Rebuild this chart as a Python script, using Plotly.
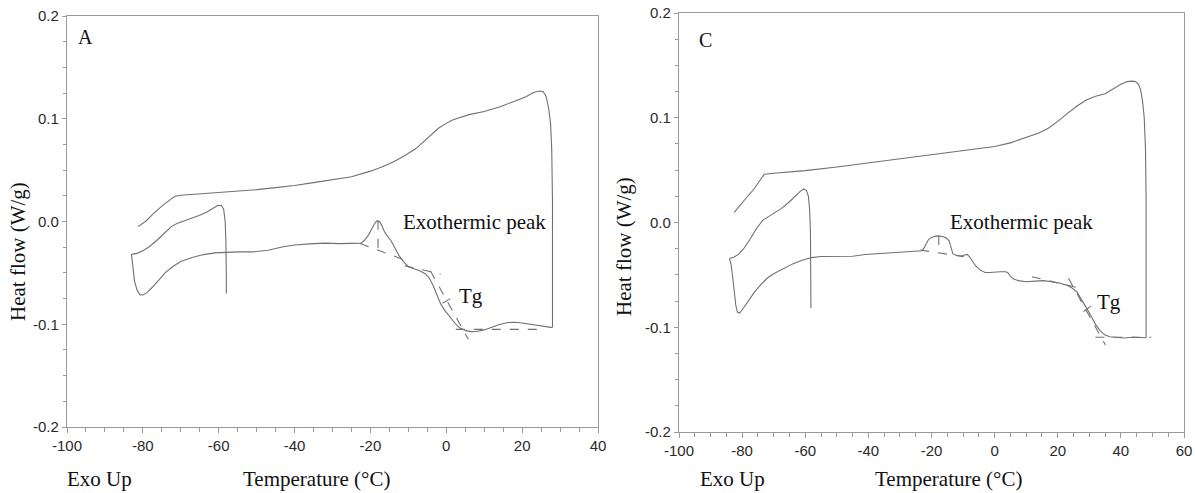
import plotly.graph_objects as go

# ---------------- Panel A data ----------------
a_top_x = [-81.3, -79, -77.3, -75, -72.5, -71.5, -70, -65, -60, -55, -50, -45, -40, -35, -30, -25, -20, -17, -14,
           -11, -8, -6, -4, -2, 0, 1.5, 3, 6, 10, 14, 18, 21, 23, 24.5, 25.5, 26.3, 27, 27.5, 27.8, 28, 28]
a_top_y = [-0.005, 0.001, 0.0075, 0.015, 0.022, 0.0245, 0.0255, 0.0268, 0.028, 0.0295, 0.031, 0.033, 0.035, 0.0378,
           0.0405, 0.0435, 0.049, 0.053, 0.058, 0.064, 0.071, 0.078, 0.084, 0.091, 0.0955, 0.0985, 0.1005, 0.104,
           0.107, 0.1115, 0.117, 0.1215, 0.1255, 0.127, 0.1265, 0.122, 0.11, 0.095, 0.07, 0.02, -0.103]

a_mid_x = [-83, -81.5, -80, -78.5, -76.5, -74.5, -72.5, -71, -69, -67, -65, -63, -61.5, -60.3, -59.3, -58.7,
           -58.3, -58.1, -58.0, -58.0]
a_mid_y = [-0.032, -0.031, -0.0285, -0.025, -0.019, -0.012, -0.005, -0.002, 0.0005, 0.003, 0.006, 0.0095, 0.013,
           0.0155, 0.0155, 0.012, 0.0, -0.02, -0.05, -0.070]

a_bot_x = [-83, -82.7, -82.2, -81.5, -80.8, -80, -79, -77.5, -76, -74, -72, -70, -67, -64, -61, -58, -55, -51, -47,
           -43, -40, -36, -32, -28, -24, -22.5, -21.5, -20.5, -19.5, -18.8, -18.2, -17.6, -17, -16.3, -15.5, -14.6,
           -13.5, -12.5, -11.3, -10, -8.5, -7, -5.5, -4.5, -3.5, -2.5, -1.5, -0.5, 0.5, 1.5, 2.5, 3.5, 5, 6.5, 8,
           10, 12, 14, 16, 18, 20, 22, 24, 26, 28]
a_bot_y = [-0.032, -0.045, -0.058, -0.067, -0.0712, -0.0715, -0.0695, -0.064, -0.058, -0.0495, -0.0435, -0.039,
           -0.035, -0.0322, -0.0305, -0.0297, -0.0296, -0.0296, -0.028, -0.0245, -0.0228, -0.0218, -0.021, -0.0215,
           -0.0215, -0.021, -0.018, -0.013, -0.006, -0.0015, 0.0008, 0.0, -0.004, -0.010, -0.0145, -0.0185, -0.026,
           -0.033, -0.039, -0.044, -0.046, -0.048, -0.051, -0.055, -0.062, -0.072, -0.080, -0.086, -0.091, -0.096,
           -0.100, -0.1035, -0.106, -0.1072, -0.107, -0.1055, -0.103, -0.1002, -0.0985, -0.098, -0.0988, -0.0998,
           -0.1008, -0.102, -0.1033]

# dashed construction lines (x pair, y pair)
a_dash_x = [[-22.7, -10.6], [-11.0, -1.5], [-18.0, -18.0], [-4.2, 5.8], [2.5, 24.7], [-1.0, 2.0]]
a_dash_y = [[-0.0215, -0.038], [-0.043, -0.051], [0.0008, -0.028], [-0.048, -0.1147], [-0.105, -0.105],
            [-0.0795, -0.073]]

# ---------------- Panel C data ----------------
c_top_x = [-82.5, -80, -78, -76.5, -74.5, -73, -70, -60, -50, -40, -30, -20, -10, -5, 0, 5, 8, 11, 14, 17, 20, 23,
           26, 29, 32, 35, 38, 40, 42, 43.5, 44.7, 45.6, 46.3, 46.9, 47.4, 47.8, 48, 48]
c_top_y = [0.0096, 0.019, 0.026, 0.031, 0.039, 0.046, 0.047, 0.0495, 0.053, 0.057, 0.061, 0.065, 0.0685, 0.0705,
           0.0725, 0.076, 0.079, 0.082, 0.0855, 0.090, 0.0965, 0.104, 0.111, 0.117, 0.1205, 0.123, 0.128, 0.132,
           0.1345, 0.135, 0.1345, 0.132, 0.126, 0.115, 0.1, 0.07, 0.02, -0.110]

c_mid_x = [-84, -82.5, -81, -79.5, -77.5, -75.5, -73.5, -72, -70, -67.5, -65, -63, -61.5, -60.5, -59.6, -59, -58.6,
           -58.35, -58.2, -58.2]
c_mid_y = [-0.0344, -0.033, -0.030, -0.025, -0.016, -0.006, 0.002, 0.005, 0.0086, 0.0135, 0.0198, 0.026, 0.030,
           0.032, 0.0305, 0.025, 0.012, -0.01, -0.05, -0.0817]

c_bot_x = [-84, -83.5, -83, -82.5, -82, -81.5, -80.8, -80, -79, -77.5, -76, -74, -72, -70, -67, -64, -61, -58, -55,
           -51, -48, -45, -41, -37, -33, -29, -25, -23, -22.3, -21.6, -21, -20, -19, -17.7, -16.5, -15.3, -14.4,
           -13.8, -13.2, -12, -10.5, -9.5, -8.7, -8, -7.2, -6, -4.5, -3, -1.5, 0, 1.8, 3.5, 4.2, 5, 6, 7.5, 10, 13,
           15.5, 18, 20.8, 23, 24.5, 26, 27.5, 29, 30.5, 32, 33.5, 35, 36.5, 38.5, 41, 44, 46, 48]
c_bot_y = [-0.0344, -0.040, -0.052, -0.066, -0.079, -0.0855, -0.0865, -0.0835, -0.079, -0.072, -0.066, -0.059,
           -0.053, -0.049, -0.0445, -0.0395, -0.036, -0.0335, -0.0325, -0.0325, -0.0328, -0.0322, -0.0306, -0.0298,
           -0.029, -0.0283, -0.0278, -0.027, -0.024, -0.019, -0.0165, -0.0142, -0.0132, -0.0128, -0.0133, -0.0148,
           -0.0175, -0.024, -0.030, -0.0315, -0.032, -0.031, -0.0305, -0.0325, -0.036, -0.0415, -0.0455, -0.0478,
           -0.0478, -0.0472, -0.047, -0.047, -0.048, -0.0515, -0.054, -0.0555, -0.0565, -0.056, -0.0555, -0.0565,
           -0.058, -0.060, -0.0625, -0.066, -0.073, -0.081, -0.089, -0.0975, -0.1035, -0.1075, -0.109, -0.1098,
           -0.1102, -0.1095, -0.1098, -0.110]

c_dash_x = [[-23.6, -9.8], [-17.7, -17.7], [11.8, 27.1], [23.4, 35.1], [31.9, 49.6], [28.2, 30.9]]
c_dash_y = [[-0.0263, -0.0326], [-0.0128, -0.0295], [-0.0517, -0.0628], [-0.0533, -0.117], [-0.1095, -0.1095],
            [-0.085, -0.0788]]

# ---------------- tick labels ----------------
y_tickvals = [-0.2, -0.1, 0.0, 0.1, 0.2]
y_ticktext = ["-0.2", "-0.1", "0.0", "0.1", "0.2"]
a_xtickvals = [-100, -80, -60, -40, -20, 0, 20, 40]
a_xticktext = ["-100", "-80", "-60", "-40", "-20", "0", "20", "40"]
c_xtickvals = [-100, -80, -60, -40, -20, 0, 20, 40, 60]
c_xticktext = ["-100", "-80", "-60", "-40", "-20", "0", "20", "40", "60"]

W, H = 1195, 493
CURVE = "#707070"
FRAME = "#9a9a9a"
SERIF = "Liberation Serif, Times New Roman, serif"
TICKFONT = dict(family="Liberation Sans Narrow, Arial Narrow, Liberation Sans, Arial, sans-serif", size=15,
                color="#2a2a2a")

fig = go.Figure()

def add_curve(x, y, xa, ya):
    fig.add_trace(go.Scatter(x=x, y=y, mode="lines", xaxis=xa, yaxis=ya, showlegend=False,
                             line=dict(color=CURVE, width=1.1), hoverinfo="skip"))

def add_dash(xs, ys, xa, ya):
    for x, y in zip(xs, ys):
        fig.add_trace(go.Scatter(x=x, y=y, mode="lines", xaxis=xa, yaxis=ya, showlegend=False,
                                 line=dict(color=CURVE, width=1.1, dash="dash"), hoverinfo="skip"))

add_curve(a_top_x, a_top_y, "x", "y")
add_curve(a_mid_x, a_mid_y, "x", "y")
add_curve(a_bot_x, a_bot_y, "x", "y")
add_dash(a_dash_x, a_dash_y, "x", "y")

add_curve(c_top_x, c_top_y, "x2", "y2")
add_curve(c_mid_x, c_mid_y, "x2", "y2")
add_curve(c_bot_x, c_bot_y, "x2", "y2")
add_dash(c_dash_x, c_dash_y, "x2", "y2")

def xaxis(dom, rng, tv, tt, anchor):
    return dict(domain=dom, range=rng, anchor=anchor, tickvals=tv, ticktext=tt, ticks="outside", ticklen=5,
                tickcolor=FRAME, tickwidth=1, showline=True, linecolor=FRAME, linewidth=1.2, mirror=True,
                showgrid=False, zeroline=False, tickfont=TICKFONT, automargin=False,
                minor=dict(dtick=5, ticks="outside", ticklen=4, tickcolor=FRAME, tickwidth=1, showgrid=False))

def yaxis(dom, anchor):
    return dict(domain=dom, range=[-0.2, 0.2], anchor=anchor, tickvals=y_tickvals, ticktext=y_ticktext,
                ticks="outside", ticklen=4, tickcolor=FRAME, tickwidth=1, showline=True, linecolor=FRAME,
                linewidth=1.2, mirror=True, showgrid=False, zeroline=False, tickfont=TICKFONT, automargin=False,
                minor=dict(dtick=0.025, tick0=0, ticks="outside", ticklen=3, tickcolor=FRAME, tickwidth=1,
                           showgrid=False))

fig.update_layout(
    width=W, height=H,
    margin=dict(l=0, r=0, t=0, b=0, autoexpand=False),
    paper_bgcolor="white", plot_bgcolor="white",
    xaxis=xaxis([67 / W, 598 / W], [-100, 40], a_xtickvals, a_xticktext, "y"),
    yaxis=yaxis([(H - 427) / H, (H - 16) / H], "x"),
    xaxis2=xaxis([679 / W, 1184 / W], [-100, 60], c_xtickvals, c_xticktext, "y2"),
    yaxis2=yaxis([(H - 432) / H, (H - 13) / H], "x2"),
)

def ann(text, x, y, xref="paper", yref="paper", xanchor="center", yanchor="middle", size=21, angle=0):
    fig.add_annotation(text=text, x=x, y=y, xref=xref, yref=yref, xanchor=xanchor, yanchor=yanchor,
                       showarrow=False, textangle=angle, font=dict(family=SERIF, size=size, color="#111111"))

# Panel A texts
ann("A", 85 / W, (H - 37) / H, size=20)
ann("Exo Up", 65 / W, (H - 479) / H, xanchor="left")
ann("Temperature (°C)", 316 / W, (H - 479) / H)
ann("Heat flow (W/g)", 18 / W, (H - 252) / H, angle=-90)
ann("Exothermic peak", -11.9, 0.0, xref="x", yref="y", xanchor="left")
ann("Tg", 2.9, -0.0725, xref="x", yref="y", xanchor="left")

# Panel C texts
ann("C", 705 / W, (H - 40) / H, size=20)
ann("Exo Up", 698 / W, (H - 479) / H, xanchor="left")
ann("Temperature (°C)", 948 / W, (H - 479) / H)
ann("Heat flow (W/g)", 624 / W, (H - 247) / H, angle=-90)
ann("Exothermic peak", -14.7, 0.0005, xref="x2", yref="y2", xanchor="left")
ann("Tg", 31.9, -0.076, xref="x2", yref="y2", xanchor="left")

fig.write_html("out.html", config={"displayModeBar": False, "staticPlot": True},
               post_script="document.body.style.margin='0px';document.body.style.overflow='hidden';")
